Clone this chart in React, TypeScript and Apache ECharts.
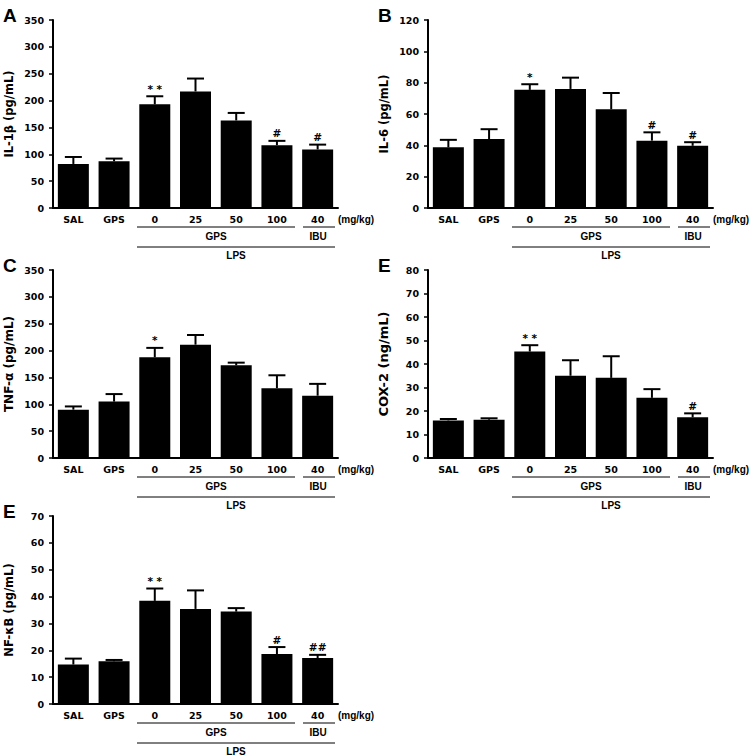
import React, { useEffect, useRef } from "react";
import * as echarts from "echarts";

const categories = ["SAL", "GPS", "0", "25", "50", "100", "40"];

const il1bMean = [82, 87, 193, 217, 163, 117, 109];
const il1bErr = [13, 5, 15, 24, 14, 8, 9];
const il1bSig = ["", "", "* *", "", "", "#", "#"];

const il6Mean = [38.7, 44, 75.4, 76, 63, 43, 39.7];
const il6Err = [4.8, 6.3, 3.6, 7.2, 10.4, 5.3, 2.3];
const il6Sig = ["", "", "*", "", "", "#", "#"];

const tnfMean = [90, 105, 187.5, 211, 172.5, 130, 116];
const tnfErr = [6, 14, 17.5, 18, 5, 24, 22];
const tnfSig = ["", "", "*", "", "", "", ""];

const coxMean = [16, 16.3, 45.3, 35, 34.1, 25.6, 17.3];
const coxErr = [0.6, 0.6, 2.7, 6.6, 9.2, 3.7, 1.7];
const coxSig = ["", "", "* *", "", "", "", "#"];

const nfMean = [14.7, 15.9, 38.4, 35.4, 34.4, 18.6, 17.1];
const nfErr = [2.2, 0.5, 4.6, 6.9, 1.3, 2.6, 1.2];
const nfSig = ["", "", "* *", "", "", "#", "##"];

const panels = [
  { letter: "A", ox: 0, oy: 0, name: "IL-1β (pg/mL)", max: 350, interval: 50, mean: il1bMean, err: il1bErr, sig: il1bSig, nameSize: 11.5 },
  { letter: "B", ox: 375, oy: 0, name: "IL-6 (pg/mL)", max: 120, interval: 20, mean: il6Mean, err: il6Err, sig: il6Sig, nameSize: 11.5 },
  { letter: "C", ox: 0, oy: 250, name: "TNF-α (pg/mL)", max: 350, interval: 50, mean: tnfMean, err: tnfErr, sig: tnfSig, nameSize: 12 },
  { letter: "E", ox: 375, oy: 250, name: "COX-2 (ng/mL)", max: 80, interval: 10, mean: coxMean, err: coxErr, sig: coxSig, nameSize: 13 },
  { letter: "E", ox: 0, oy: 496, name: "NF-κB (pg/mL)", max: 70, interval: 10, mean: nfMean, err: nfErr, sig: nfSig, nameSize: 11.5 },
];

const FONT = "DejaVu Sans";
const SANS = "Liberation Sans";

function panelGraphics(p: any) {
  const { ox, oy } = p;
  const txt = (x: number, y: number, text: string, size: number, align = "center", family = SANS) => ({
    type: "text",
    x: ox + x,
    y: oy + y,
    style: { text, fill: "#000", font: `bold ${size}px "${family}"`, align, verticalAlign: "middle" },
  });
  const ln = (x1: number, x2: number, y: number) => ({
    type: "line",
    shape: { x1: ox + x1, y1: oy + y, x2: ox + x2, y2: oy + y },
    style: { stroke: "#000", lineWidth: 1 },
  });
  return [
    txt(3, 15, p.letter, 19, "left", SANS),
    txt(338, 219, "(mg/kg)", 10, "left"),
    ln(137, 295, 227),
    ln(303, 335, 227),
    txt(216, 236, "GPS", 10),
    txt(318, 236, "IBU", 10),
    ln(137, 335, 247),
    txt(236, 255, "LPS", 10),
  ];
}

export default function App() {
  const ref = useRef<HTMLDivElement>(null);
  useEffect(() => {
    if (!ref.current) return;
    const chart = echarts.init(ref.current, null, { renderer: "svg" });
    const grid: any[] = [];
    const xAxis: any[] = [];
    const yAxis: any[] = [];
    const series: any[] = [];
    let graphic: any[] = [];
    panels.forEach((p, k) => {
      grid.push({ left: p.ox + 53, top: p.oy + 20, width: 285, height: 188 });
      xAxis.push({
        type: "category",
        gridIndex: k,
        data: categories,
        axisLine: { lineStyle: { color: "#000", width: 2 } },
        axisTick: { show: false },
        axisLabel: { color: "#000", fontWeight: "bold", fontSize: 9.5, fontFamily: FONT, margin: 6 },
      });
      yAxis.push({
        type: "value",
        gridIndex: k,
        min: 0,
        max: p.max,
        interval: p.interval,
        axisLine: { show: true, lineStyle: { color: "#000", width: 2 } },
        axisTick: { show: true, length: 4, lineStyle: { color: "#000", width: 1.5 } },
        splitLine: { show: false },
        axisLabel: { color: "#000", fontWeight: "bold", fontSize: 9.5, fontFamily: FONT, margin: 9 },
        name: p.name,
        nameLocation: "middle",
        nameGap: 38,
        nameTextStyle: { color: "#000", fontWeight: "bold", fontSize: p.nameSize, fontFamily: FONT },
      });
      series.push({
        type: "bar",
        xAxisIndex: k,
        yAxisIndex: k,
        data: p.mean,
        barWidth: 31,
        itemStyle: { color: "#000" },
      });
      series.push({
        type: "custom",
        xAxisIndex: k,
        yAxisIndex: k,
        z: 3,
        data: p.mean.map((m: number, i: number) => [i, m, m + p.err[i]]),
        renderItem: (params: any, api: any) => {
          const i = api.value(0);
          const base = api.coord([i, api.value(1)]);
          const top = api.coord([i, api.value(2)]);
          const s = p.sig[params.dataIndex];
          const children: any[] = [
            { type: "line", shape: { x1: base[0], y1: base[1], x2: top[0], y2: top[1] }, style: { stroke: "#000", lineWidth: 2 } },
            { type: "line", shape: { x1: top[0] - 8.5, y1: top[1], x2: top[0] + 8.5, y2: top[1] }, style: { stroke: "#000", lineWidth: 2 } },
          ];
          if (s) {
            children.push({
              type: "text",
              x: top[0],
              y: top[1] - 2,
              style: { text: s, fill: "#000", font: `bold 10.5px "${FONT}"`, align: "center", verticalAlign: "bottom" },
            });
          }
          return { type: "group", children };
        },
      });
      graphic = graphic.concat(panelGraphics(p));
    });
    chart.setOption({
      animation: false,
      backgroundColor: "#fff",
      grid,
      xAxis,
      yAxis,
      series,
      graphic,
    });
    return () => chart.dispose();
  }, []);
  return <div ref={ref} style={{ position: "absolute", left: 0, top: 0, width: 750, height: 756 }} />;
}
